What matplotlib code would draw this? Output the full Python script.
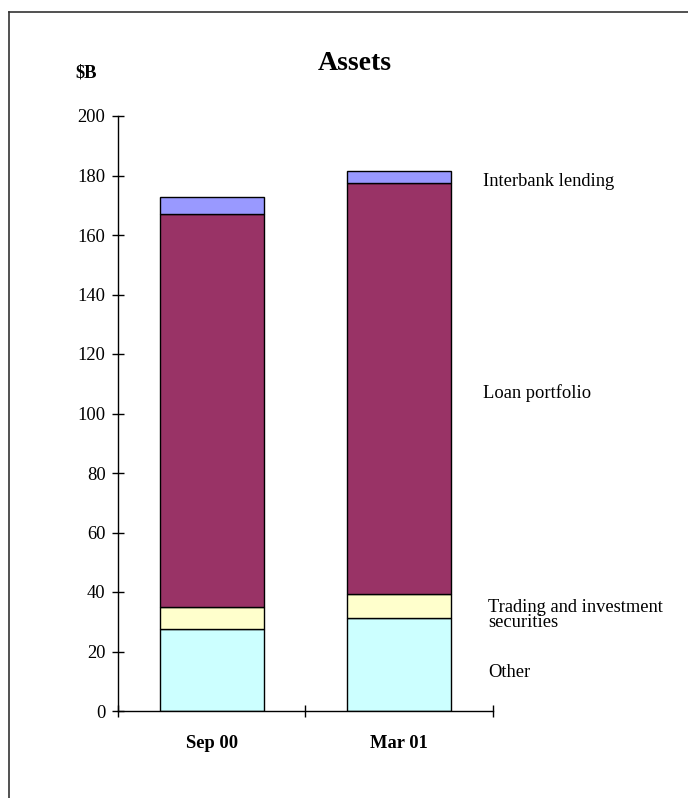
import matplotlib
matplotlib.use("Agg")
import matplotlib.pyplot as plt
from matplotlib.lines import Line2D
import numpy as np

categories = ["Sep 00", "Mar 01"]
series_names = ["Other", "Trading and investment\nsecurities", "Loan portfolio", "Interbank lending"]
other = [27.6, 31.3]
trading = [7.2, 8.1]
loans = [132.3, 138.1]
interbank = [5.8, 3.9]
y_ticks = [0, 20, 40, 60, 80, 100, 120, 140, 160, 180, 200]

colors = ["#CCFFFF", "#FFFFCC", "#993366", "#9999FF"]

plt.rcParams['font.family'] = ['Liberation Serif', 'DejaVu Serif']
FS = 13.3

W, H = 688, 798
fig = plt.figure(figsize=(W / 100, H / 100), dpi=100)
ax = fig.add_axes([118 / W, 1 - 711 / H, (492.7 - 118) / W, (711 - 116) / H])

x = np.arange(len(categories))
bottom = np.zeros(len(categories))
for vals, col in zip([other, trading, loans, interbank], colors):
    ax.bar(x, vals, width=0.555, bottom=bottom, color=col, edgecolor="black", linewidth=1.0, zorder=2)
    bottom = bottom + np.array(vals)

ax.set_xlim(-0.5, 1.5)
ax.set_ylim(0, 200)
for s in ["top", "right"]:
    ax.spines[s].set_visible(False)
for s in ["left", "bottom"]:
    ax.spines[s].set_linewidth(1.0)

ax.set_yticks(y_ticks)
ax.set_yticklabels([str(v) for v in y_ticks], fontsize=FS)
ax.tick_params(axis="y", direction="inout", length=8, width=1.0, pad=5.0)

ax.set_xticks([-0.5, 0.5, 1.5])
ax.set_xticklabels(["", "", ""])
ax.tick_params(axis="x", which="major", direction="inout", length=8, width=1.0)
ax.set_xticks(x, minor=True)
ax.set_xticklabels(categories, minor=True, fontsize=FS, fontweight="bold")
ax.tick_params(axis="x", which="minor", length=0, pad=17)

# series labels on the right
label_pos = [(1.475, 12.8), (1.475, 32.3), (1.448, 106.9), (1.448, 177.9)]
for name, (lx, ly) in zip(series_names, label_pos):
    ax.text(lx, ly, name, fontsize=FS, ha="left", va="center", linespacing=0.85, clip_on=False)

fig.text(355 / W, 1 - 63 / H, "Assets", fontsize=20, fontweight="bold", ha="center", va="center")
fig.text(75 / W, 1 - 72.7 / H, "$B", fontsize=FS, fontweight="bold", ha="left", va="center")

# figure border (top and left)
fig.add_artist(Line2D([9 / W, 1], [1 - 12 / H, 1 - 12 / H], transform=fig.transFigure, color="#333333", linewidth=1.2))
fig.add_artist(Line2D([9 / W, 9 / W], [0, 1 - 12 / H], transform=fig.transFigure, color="#333333", linewidth=1.2))

fig.savefig("out.png", dpi=100)
